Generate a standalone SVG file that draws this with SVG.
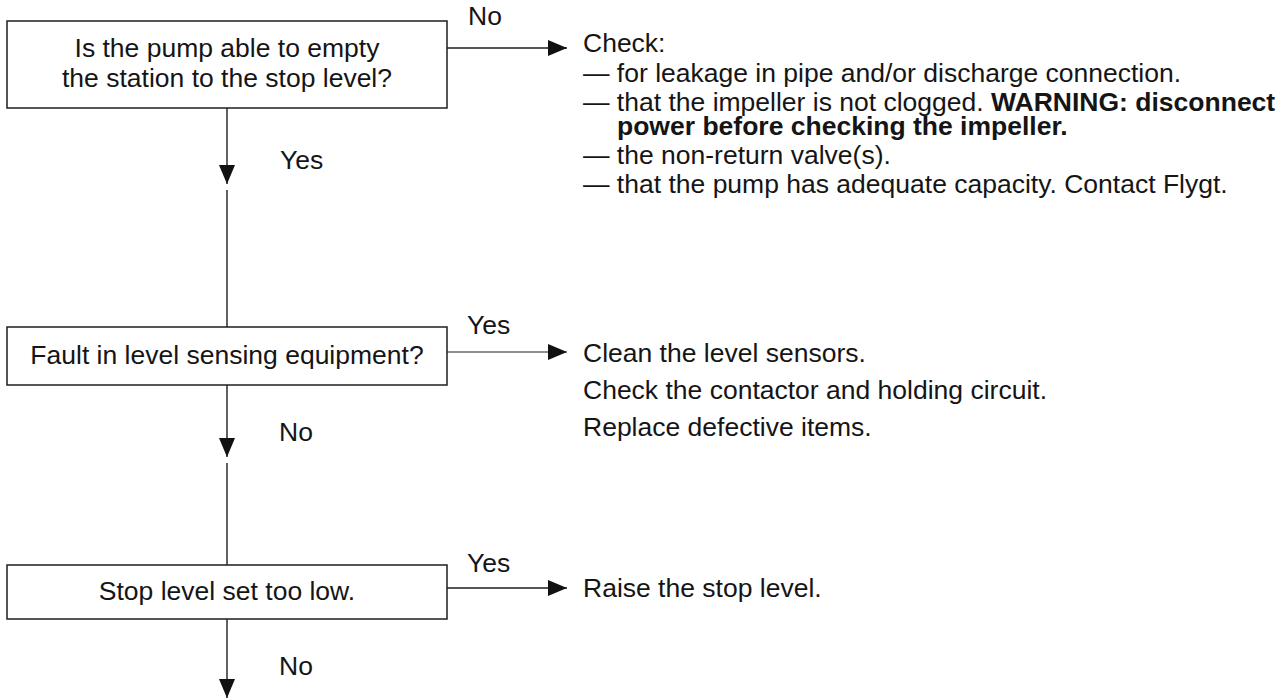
<svg xmlns="http://www.w3.org/2000/svg" width="1288" height="698" viewBox="0 0 1288 698">
  <style>
    text { font-family: "Liberation Sans", Arial, Helvetica, sans-serif; font-size: 26.5px; fill: #151515; }
    .c { text-anchor: middle; }
    .b { font-weight: bold; }
    .box { fill: #ffffff; stroke: #1e1e1e; stroke-width: 1.5; }
    .ln { stroke: #1e1e1e; stroke-width: 1.4; fill: none; }
  </style>
  <defs>
    <marker id="ah" viewBox="0 0 19 16" refX="19" refY="8" markerWidth="19" markerHeight="16" orient="auto" markerUnits="userSpaceOnUse">
      <path d="M0,0 L19,8 L0,16 z" fill="#111"/>
    </marker>
  </defs>
  <rect width="1288" height="698" fill="#ffffff"/>

  <g id="connectors">
    <line class="ln" x1="447" y1="48" x2="567" y2="48" marker-end="url(#ah)"/>
    <line class="ln" x1="227" y1="108" x2="227" y2="184" marker-end="url(#ah)"/>
    <line class="ln" x1="227" y1="190" x2="227" y2="327"/>
    <line class="ln" x1="447" y1="352" x2="567" y2="352" marker-end="url(#ah)" style="stroke-width:1.1"/>
    <line class="ln" x1="227" y1="385" x2="227" y2="457" marker-end="url(#ah)"/>
    <line class="ln" x1="227" y1="463" x2="227" y2="565"/>
    <line class="ln" x1="447" y1="588" x2="567" y2="588" marker-end="url(#ah)"/>
    <line class="ln" x1="227" y1="619" x2="227" y2="698" marker-end="url(#ah)"/>
    <text x="468" y="25">No</text>
    <text x="280" y="169">Yes</text>
    <text x="467" y="334">Yes</text>
    <text x="279" y="441">No</text>
    <text x="467" y="572">Yes</text>
    <text x="279" y="675">No</text>
  </g>

  <g id="node-pump">
    <rect class="box" x="7" y="21" width="440" height="87"/>
    <text class="c" x="227" y="57">Is the pump able to empty</text>
    <text class="c" x="227" y="87">the station to the stop level?</text>
  </g>

  <g id="node-check">
    <text x="583" y="52">Check:</text>
    <text x="583" y="82">— for leakage in pipe and/or discharge connection.</text>
    <text x="583" y="111">— that the impeller is not clogged. <tspan class="b">WARNING: disconnect</tspan></text>
    <text x="617" y="135" class="b">power before checking the impeller.</text>
    <text x="583" y="164">— the non-return valve(s).</text>
    <text x="583" y="193">— that the pump has adequate capacity. Contact Flygt.</text>
  </g>

  <g id="node-fault">
    <rect class="box" x="7" y="327" width="440" height="58"/>
    <text class="c" x="227" y="364">Fault in level sensing equipment?</text>
  </g>

  <g id="node-clean">
    <text x="583" y="362">Clean the level sensors.</text>
    <text x="583" y="399">Check the contactor and holding circuit.</text>
    <text x="583" y="436">Replace defective items.</text>
  </g>

  <g id="node-stop">
    <rect class="box" x="7" y="565" width="440" height="54"/>
    <text class="c" x="227" y="600">Stop level set too low.</text>
  </g>

  <g id="node-raise">
    <text x="583" y="597">Raise the stop level.</text>
  </g>
</svg>
